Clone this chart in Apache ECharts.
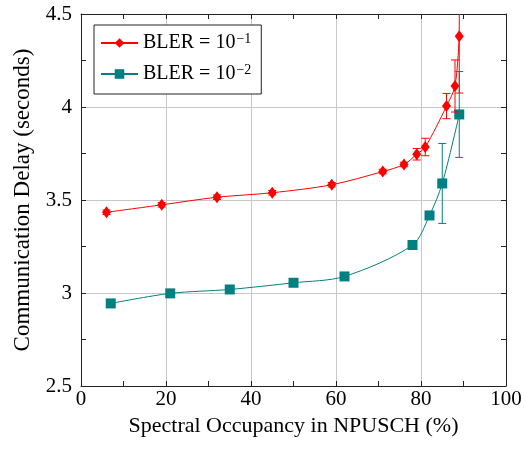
<!DOCTYPE html>
<html>
<head>
<meta charset="utf-8">
<script src="https://cdn.jsdelivr.net/npm/echarts@6/dist/echarts.min.js"></script>
<style>
  html, body { margin: 0; padding: 0; background: #fff; }
  #chart { width: 525px; height: 450px; }
</style>
</head>
<body>
<div id="chart"></div>
<script>
// BLER = 10^-1
const redX = [6, 19, 32, 45, 59, 71, 76, 79, 81, 86, 88, 89]
const redY = [3.434, 3.474, 3.515, 3.539, 3.582, 3.653, 3.691, 3.746, 3.785, 4.005, 4.113, 4.38]
const redErr = [0.012, 0.012, 0.012, 0.012, 0.012, 0.012, 0.012, 0.031, 0.047, 0.068, 0.14, 0.305]
// BLER = 10^-2
const tealX = [7, 21, 35, 50, 62, 78, 82, 85, 89]
const tealY = [2.944, 2.998, 3.019, 3.055, 3.089, 3.258, 3.417, 3.589, 3.96]
const tealErr = [0, 0, 0, 0, 0, 0.015, 0.02, 0.215, 0.231]

const RED = '#ff0000'
const TEAL = '#008080'
const FONT = '"Liberation Serif", "DejaVu Serif", serif'

const toPoints = (xs, ys) => xs.map((x, i) => [x, ys[i]])
const toBars = (xs, ys, es) =>
  xs.map((x, i) => [x, ys[i] - es[i], ys[i] + es[i]]).filter((d, i) => es[i] > 0)

function errorBars(color) {
  return function (params, api) {
    const x = api.value(0)
    const lo = api.coord([x, api.value(1)])
    const hi = api.coord([x, api.value(2)])
    const style = { stroke: color, lineWidth: 1 }
    return {
      type: 'group',
      children: [
        { type: 'line', shape: { x1: lo[0], y1: lo[1], x2: hi[0], y2: hi[1] }, style },
        { type: 'line', shape: { x1: lo[0] - 4, y1: lo[1], x2: lo[0] + 4, y2: lo[1] }, style },
        { type: 'line', shape: { x1: hi[0] - 4, y1: hi[1], x2: hi[0] + 4, y2: hi[1] }, style },
      ],
    }
  }
}

const frame = { show: true, onZero: false, lineStyle: { color: '#222', width: 1 } }
const ticks = { show: true, inside: true, length: 5, lineStyle: { color: '#222' } }
const minor = { show: true, splitNumber: 2, length: 5, lineStyle: { color: '#222' } }
const grid = { show: true, lineStyle: { color: '#c8c8c8', width: 1 } }

const chart = echarts.init(document.getElementById('chart'))
chart.setOption({
  animation: false,
  textStyle: { fontFamily: FONT },
  grid: { left: 81, right: 19, top: 14, bottom: 64 },
  legend: {
    orient: 'vertical',
    left: 94,
    top: 25,
    data: ['BLER = 10^-1', 'BLER = 10^-2'],
    backgroundColor: '#fff',
    borderColor: '#222',
    borderWidth: 1,
    padding: [7, 10, 7, 6],
    itemWidth: 37,
    itemHeight: 12,
    itemGap: 7,
    formatter: (name) => {
      const p = name.split('^')
      return '{a|' + p[0] + '}{s|' + p[1].replace('-', '\u2212') + '}'
    },
    textStyle: {
      fontFamily: FONT,
      color: '#000',
      rich: {
        a: { fontFamily: FONT, fontSize: 20, color: '#000', lineHeight: 22 },
        s: { fontFamily: FONT, fontSize: 14, color: '#000', verticalAlign: 'top', lineHeight: 22, padding: [0, 0, 10, 1] },
      },
    },
  },
  xAxis: [
    {
      type: 'value', min: 0, max: 100, interval: 20, position: 'bottom',
      name: 'Spectral Occupancy in NPUSCH (%)', nameLocation: 'middle', nameGap: 28,
      nameTextStyle: { fontFamily: FONT, fontSize: 22, color: '#000' },
      axisLine: frame, axisTick: ticks, minorTick: minor, splitLine: grid,
      axisLabel: { fontFamily: FONT, fontSize: 21, color: '#000', margin: 3 },
    },
    {
      type: 'value', min: 0, max: 100, interval: 20, position: 'top',
      axisLine: frame, axisTick: ticks, minorTick: minor,
      splitLine: { show: false }, axisLabel: { show: false },
    },
  ],
  yAxis: [
    {
      type: 'value', min: 2.5, max: 4.5, interval: 0.5, position: 'left',
      name: 'Communication Delay (seconds)', nameLocation: 'middle', nameGap: 47,
      nameTextStyle: { fontFamily: FONT, fontSize: 23, color: '#000' },
      axisLine: frame, axisTick: ticks, minorTick: minor, splitLine: grid,
      axisLabel: { fontFamily: FONT, fontSize: 21, color: '#000', margin: 9 },
    },
    {
      type: 'value', min: 2.5, max: 4.5, interval: 0.5, position: 'right',
      axisLine: frame, axisTick: ticks, minorTick: minor,
      splitLine: { show: false }, axisLabel: { show: false },
    },
  ],
  series: [
    {
      name: 'BLER = 10^-1',
      type: 'line',
      data: toPoints(redX, redY),
      smooth: 0.3,
      symbol: 'diamond',
      symbolSize: [9, 12],
      lineStyle: { color: RED, width: 1 },
      itemStyle: { color: RED },
      z: 3,
    },
    {
      name: 'BLER = 10^-2',
      type: 'line',
      data: toPoints(tealX, tealY),
      smooth: 0.3,
      symbol: 'rect',
      symbolSize: 10,
      lineStyle: { color: TEAL, width: 1 },
      itemStyle: { color: TEAL },
      z: 3,
    },
    {
      type: 'custom',
      data: toBars(redX, redY, redErr),
      renderItem: errorBars(RED),
      encode: { x: 0, y: [1, 2] },
      clip: true,
      z: 4,
    },
    {
      type: 'custom',
      data: toBars(tealX, tealY, tealErr),
      renderItem: errorBars(TEAL),
      encode: { x: 0, y: [1, 2] },
      clip: true,
      z: 4,
    },
  ],
})
</script>
</body>
</html>
